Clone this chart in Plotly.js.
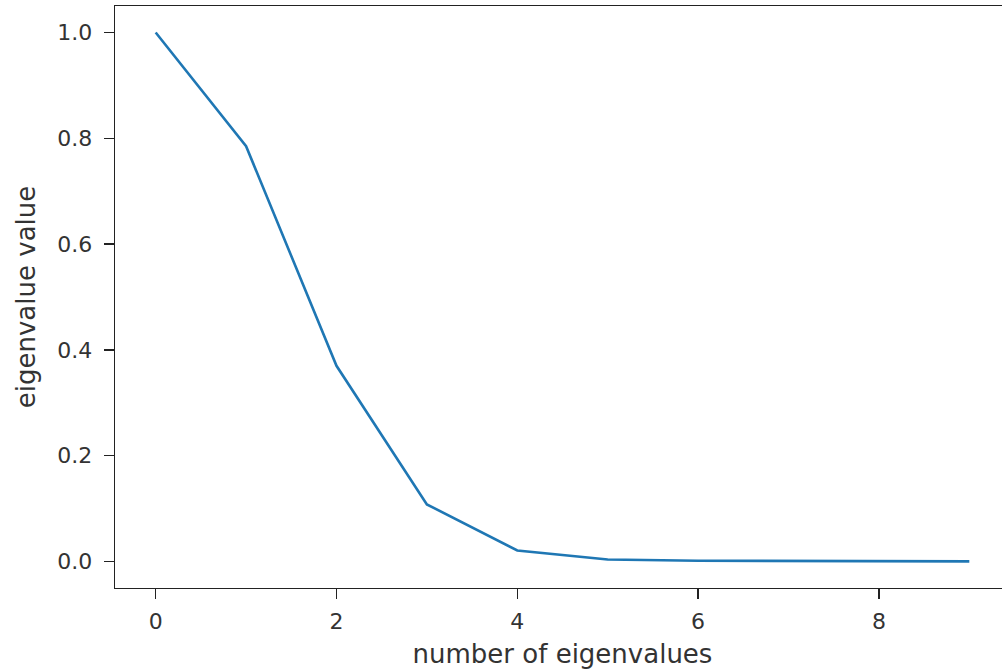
<!DOCTYPE html>
<html>
<head>
<meta charset="utf-8">
<script src="https://cdn.plot.ly/plotly-3.0.1.min.js"></script>
<style>
html, body { margin: 0; padding: 0; overflow: hidden; background: #fff; }
#chart { width: 1012px; height: 672px; }
</style>
</head>
<body>
<div id="chart"></div>
<script>
const eigIndex = [0, 1, 2, 3, 4, 5, 6, 7, 8, 9];
const eigValues = [1.0, 0.785, 0.370, 0.108, 0.021, 0.004, 0.0015, 0.0008, 0.0005, 0.0003];
const xTickVals = [0, 2, 4, 6, 8];
const yTickVals = [0.0, 0.2, 0.4, 0.6, 0.8, 1.0];
const yTickText = ['0.0', '0.2', '0.4', '0.6', '0.8', '1.0'];

const fontFam = 'DejaVu Sans, sans-serif';
const trace = {
  x: eigIndex,
  y: eigValues,
  type: 'scatter',
  mode: 'lines',
  line: { color: '#1f77b4', width: 2.6 },
  hoverinfo: 'skip'
};

const axisCommon = {
  showgrid: false,
  zeroline: false,
  showline: true,
  linecolor: '#222',
  linewidth: 1.4,
  mirror: true,
  ticks: 'outside',
  ticklen: 10,
  tickwidth: 1.4,
  tickcolor: '#222',
  tickfont: { family: fontFam, size: 22, color: '#333' }
};

const layout = {
  width: 1012,
  height: 672,
  margin: { l: 115, r: 2, t: 6, b: 84 },
  paper_bgcolor: '#fff',
  plot_bgcolor: '#fff',
  showlegend: false,
  xaxis: Object.assign({}, axisCommon, {
    range: [-0.45, 9.45],
    tickvals: xTickVals,
    ticktext: xTickVals.map(String),
    ticklabelstandoff: 3,
    title: { text: 'number of eigenvalues', font: { family: fontFam, size: 26, color: '#333' }, standoff: 12 }
  }),
  yaxis: Object.assign({}, axisCommon, {
    range: [-0.05, 1.05],
    tickvals: yTickVals,
    ticktext: yTickText,
    ticklabelstandoff: 7,
    title: { text: 'eigenvalue value', font: { family: fontFam, size: 26, color: '#333' }, standoff: 14 }
  })
};

Plotly.newPlot('chart', [trace], layout, { staticPlot: true, displayModeBar: false });
</script>
</body>
</html>
